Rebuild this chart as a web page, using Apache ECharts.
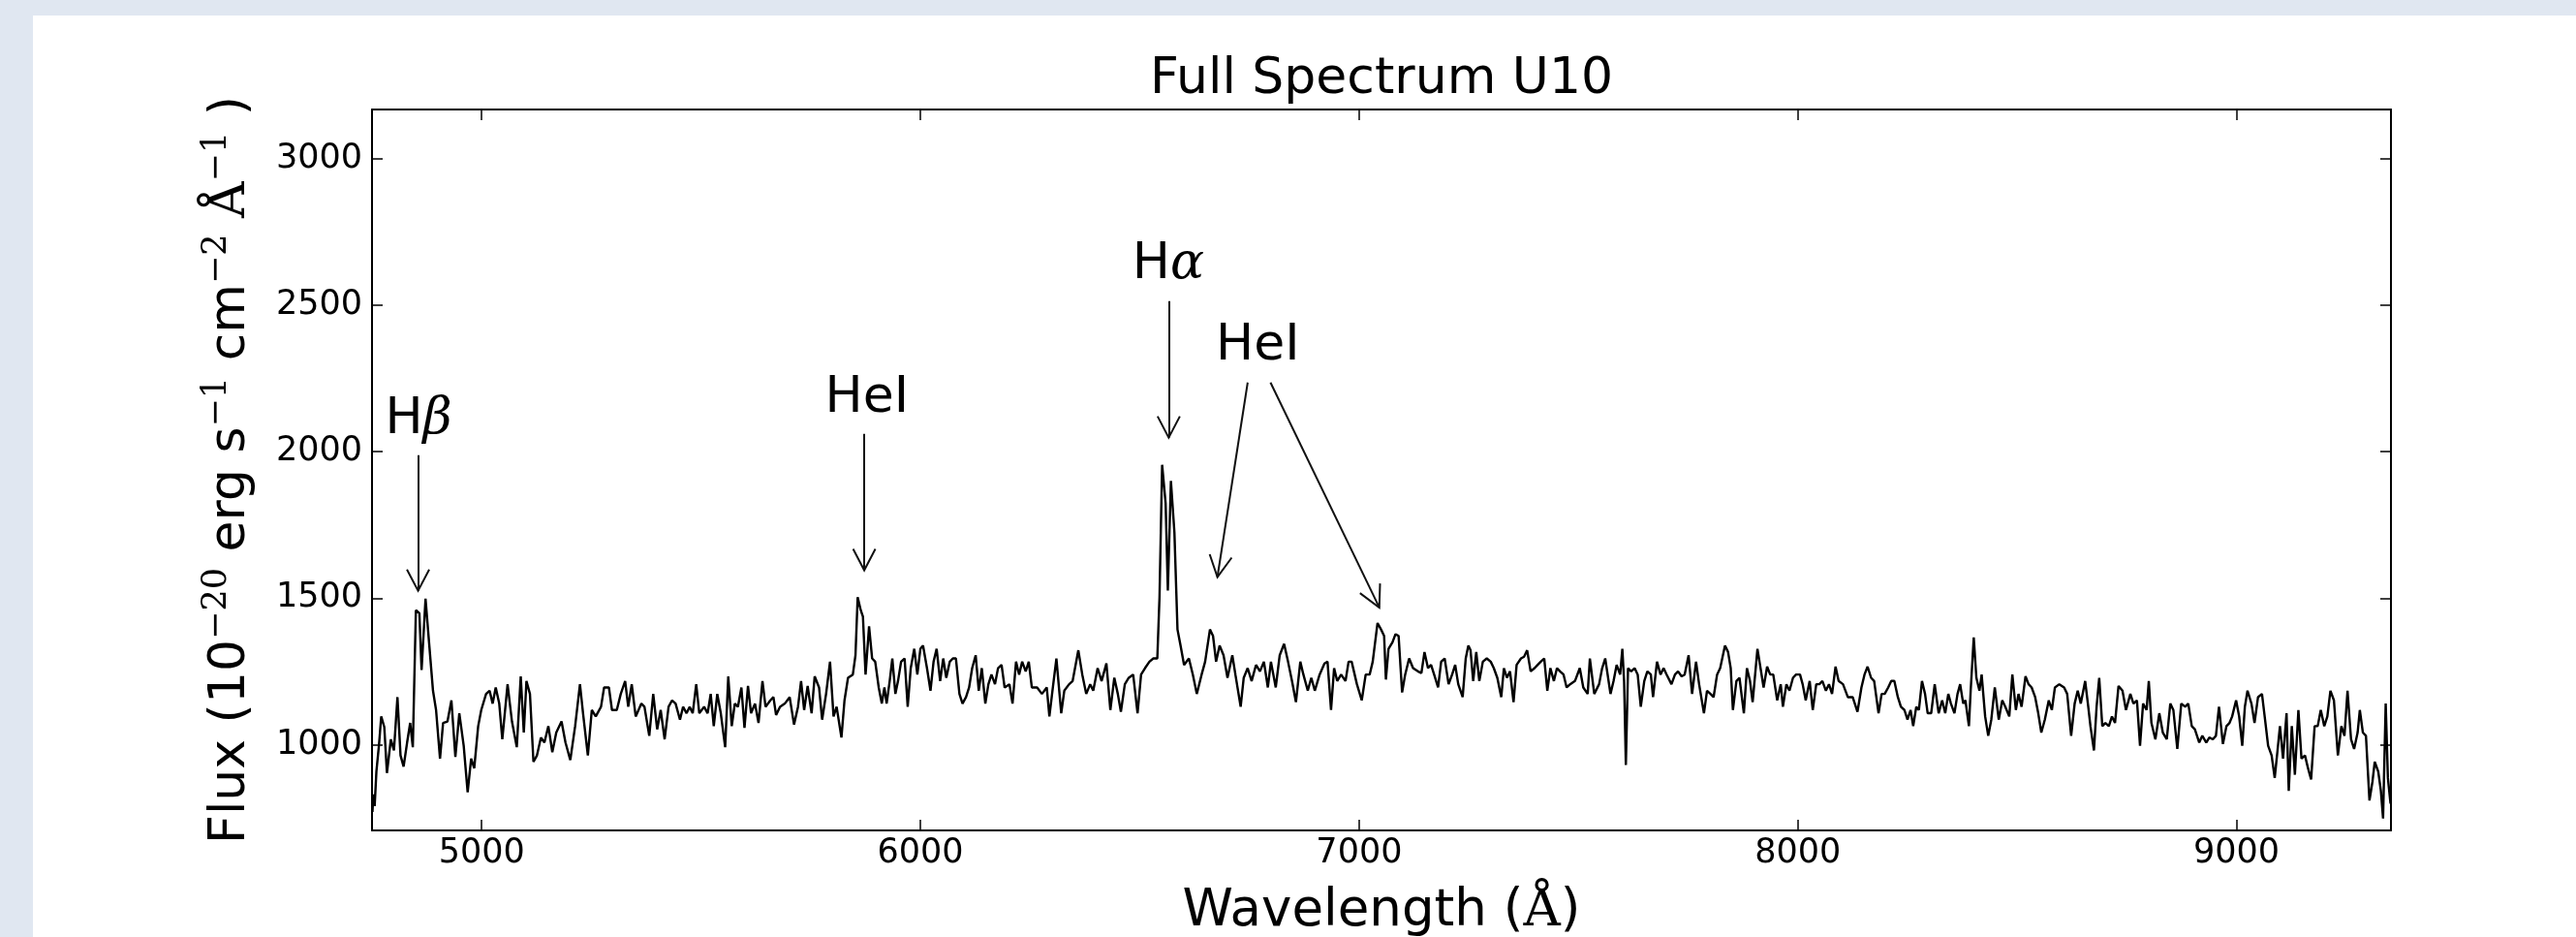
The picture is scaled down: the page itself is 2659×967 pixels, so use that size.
<!DOCTYPE html>
<html>
<head>
<meta charset="utf-8">
<title>Full Spectrum U10</title>
<script src="https://cdn.jsdelivr.net/npm/echarts@6/dist/echarts.min.js"></script>
<style>
  html, body { margin: 0; padding: 0; background: #e0e7f1; }
  #main { position: absolute; left: 34px; top: 16px; width: 2625px; height: 951px; background: #fff; }
</style>
</head>
<body>
<div id="main"></div>
<script>
// spectrum, wavelength in Angstrom, flux in 1e-20 erg/s/cm2/A
var wavelength = [
  4751,4753,4756,4760,4766,4771,4778,4784,4793,4800,
  4808,4815,4822,4830,4837,4843,4850,4858,4863,4872,
  4880,4889,4896,4905,4912,4922,4931,4940,4949,4959,
  4968,4976,4983,4992,4999,5010,5018,5025,5032,5040,
  5047,5059,5069,5080,5089,5096,5102,5110,5118,5126,
  5135,5143,5152,5161,5170,5182,5191,5202,5213,5224,
  5231,5242,5251,5260,5272,5279,5290,5297,5308,5317,
  5327,5334,5342,5351,5364,5371,5382,5391,5400,5408,
  5417,5426,5434,5442,5452,5459,5467,5474,5481,5489,
  5496,5507,5515,
  5522,5529,5537,5545,5555,5562,5570,5577,5584,5592,
  5599,5607,5614,5623,5631,5640,5647,5658,5665,5671,
  5680,5691,5702,5712,5721,5728,5735,5743,5752,5759,
  5769,5776,5785,5794,5802,5809,5820,5827,5835,5846,
  5852,5857,5864,5869,5875,5883,5890,5897,5905,5912,
  5918,5923,5930,5936,5943,5949,5956,5964,5971,5978,
  5986,5993,6000,6006,6015,6023,6030,6037,6045,6052,
  6059,6067,6074,6081,6089,6096,6104,6111,6118,6126,
  6133,6140,6148,6155,6162,6170,6177,6185,6192,6203,
  6210,6218,6225,6232,6240,6247,6254,6266,6277,
  6288,6294,6301,6310,6321,6328,6339,6347,6360,6369,
  6378,6387,6394,6404,6413,6424,6433,6442,6450,6457,
  6466,6475,6485,6495,6503,6512,6522,6531,6540,6545,
  6551,6559,6564,6571,6579,6586,6593,6601,6612,6621,
  6630,6641,6649,6660,6667,6674,6682,6691,6700,6711,
  6718,6730,6737,6746,6755,6765,6774,6783,6792,6799,
  6810,6819,6829,6838,6847,6856,6866,6873,6883,6891,
  6899,6910,6921,6928,6936,6943,6950,6959,6969,6976,
  6983,6995,7006,7015,7024,7031,7042,7050,7057,7061,
  7067,7076,7083,7090,7098,7105,7114,7123,7134,7142,
  7149,7157,7164,7171,7180,7187,7195,7204,7212,7219,
  7226,7236,7243,7249,7254,7260,7267,7274,7282,7291,
  7300,7307,7315,7324,7330,7337,7344,7352,7359,7369,
  7376,7383,7391,7400,7407,7414,7422,7429,7436,7444,
  7451,7458,7466,7473,7481,7492,7503,7511,7521,7526,
  7536,7547,7554,7561,7573,7580,7587,7595,7600,7604,
  7608,7613,7620,7628,7635,7642,7650,7657,7665,7670,
  7679,7687,7694,7701,7712,7720,7727,7735,7742,7751,
  7759,7768,7775,7786,7793,7801,7808,7816,7823,7834,
  7841,7847,7852,7860,7867,7877,7884,7891,7897,7908,
  7915,7922,7930,7937,7944,7953,7961,7966,7974,7981,
  7989,7996,8005,8011,8018,8027,8034,8042,8049,8056,
  8064,8071,8078,8086,8093,8103,8114,8125,8136,8145,
  8152,8159,8167,8174,8184,8191,8198,8206,8213,8220,
  8228,8235,8243,8250,8257,8263,8270,8276,8283,8290,
  8296,8304,8312,8321,8329,8336,8343,8349,8357,8364,
  8370,8377,8382,8390,8394,8401,8407,8414,8419,8427,
  8434,8441,8449,8458,8466,8473,8482,8489,8497,8503,
  8510,8519,8526,8533,8541,8548,8555,8563,8572,8579,
  8586,8596,8607,
  8614,8623,8631,8638,8645,8655,8662,8667,8675,8681,
  8687,8694,8701,8709,8716,8723,8731,8740,8748,8758,
  8765,8773,8780,8787,8795,8800,8806,8815,8824,8832,
  8841,8849,8856,8865,8874,8883,8890,8898,8905,8915,
  8922,8931,8938,8946,8953,8960,8969,8977,8984,8990,
  8999,9006,9013,9019,9025,9034,9041,9049,9058,9065,
  9072,9080,9087,9093,9099,9106,9114,9119,9126,9133,
  9141,9148,9156,9163,9170,9178,9185,9192,9200,9207,
  9214,9222,9231,9239,9246,9253,9261,9268,9276,9281,
  9288,9295,9303,9310,9315,9323,9329,9334,9340,9345,
  9351
];
var flux = [
  770,830,790,908,1000,1096,1060,903,1018,980,
  1162,963,925,1007,1074,991,1459,1448,1255,1498,
  1349,1184,1118,952,1074,1079,1151,958,1107,996,
  837,952,919,1063,1118,1173,1184,1140,1195,1140,
  1018,1206,1079,991,1233,1041,1217,1173,941,963,
  1024,1007,1063,974,1041,1079,1007,947,1063,1206,
  1107,963,1118,1096,1129,1195,1195,1118,1118,1173,
  1217,1129,1206,1096,1140,1129,1030,1173,1052,1118,
  1018,1129,1151,1140,1085,1129,1107,1129,1107,1206,
  1107,1129,1107,
  1173,1063,1173,1107,991,1233,1063,1140,1129,1195,
  1057,1200,1107,1140,1074,1217,1129,1151,1162,1101,
  1129,1140,1162,1068,1129,1217,1118,1200,1107,1233,
  1195,1085,1173,1283,1096,1129,1024,1151,1228,1239,
  1305,1503,1459,1437,1239,1404,1294,1283,1195,1140,
  1195,1140,1217,1294,1173,1217,1283,1294,1129,1261,
  1327,1239,1327,1338,1261,1184,1283,1327,1217,1294,
  1228,1283,1294,1294,1173,1140,1162,1195,1261,1305,
  1184,1261,1140,1206,1239,1206,1261,1272,1195,1206,
  1140,1283,1239,1283,1250,1283,1195,1195,1173,
  1195,1096,1184,1294,1107,1184,1206,1217,1322,1239,
  1173,1206,1184,1261,1217,1277,1118,1228,1173,1112,
  1206,1228,1239,1107,1239,1261,1283,1294,1294,1503,
  1955,1823,1526,1900,1724,1393,1338,1272,1294,1239,
  1173,1239,1283,1393,1371,1283,1338,1305,1228,1305,
  1239,1129,1228,1261,1217,1272,1250,1283,1195,1283,
  1195,1305,1344,1283,1217,1145,1283,1239,1184,1228,
  1184,1239,1277,1283,1118,1261,1217,1239,1217,1283,
  1283,1206,1151,1239,1239,1283,1415,1393,1371,1222,
  1327,1349,1377,1371,1178,1239,1294,1261,1250,1244,
  1316,1261,1272,1239,1195,1283,1294,1206,1239,1272,
  1206,1162,1294,1338,1322,1217,1316,1217,1283,1294,
  1283,1261,1228,1162,1261,1228,1250,1145,1272,1294,
  1300,1322,1250,1261,1272,1283,1294,1184,1261,1217,
  1261,1250,1239,1195,1206,1217,1261,1195,1173,1294,
  1173,1206,1261,1294,1173,1217,1272,1239,1327,1217,
  930,1261,1250,1261,1239,1129,1217,1250,1239,1162,
  1283,1239,1261,1239,1206,1239,1250,1233,1239,1305,
  1173,1283,1206,1107,1184,1173,1162,1239,1261,1338,
  1316,1261,1118,1217,1228,1107,1261,1217,1145,1327,
  1261,1195,1266,1239,1239,1151,1206,1129,1206,1184,
  1228,1239,1239,1206,1151,1217,1118,1206,1206,1217,
  1184,1206,1173,1266,1217,1206,1162,1162,1112,1195,
  1239,1266,1228,1217,1107,1173,1173,1195,1217,1217,
  1162,1129,1118,1085,1118,1063,1129,1118,1217,1173,
  1107,1107,1206,1107,1151,1107,1173,1140,1107,1173,
  1206,1140,1151,1063,1184,1366,1228,1184,1239,1096,
  1030,1085,1195,1085,1151,1129,1096,1239,1118,1173,
  1129,1233,1206,1195,1162,1107,1041,1085,1151,1118,
  1195,1206,1195,
  1173,1030,1140,1184,1140,1217,1129,1063,980,1129,
  1228,1063,1074,1063,1096,1074,1200,1184,1118,1173,
  1140,1151,996,1140,1118,1217,1074,1018,1107,1041,
  1018,1140,1118,985,1140,1129,1140,1063,1052,1007,
  1030,1007,1024,1018,1030,1129,1002,1063,1074,1096,
  1151,1096,996,1129,1184,1140,1074,1162,1173,1085,
  996,963,886,974,1063,952,1107,842,1063,897,
  1118,952,963,919,881,1063,1063,1118,1063,1096,
  1184,1151,963,1063,1030,1184,1018,985,1041,1118,
  1041,1030,809,875,941,908,842,748,1140,886,
  798
];

// emission line labels (text centre, data coords)
var lineNames = ['H{g|β}', 'HeI', 'H{g|α}', 'HeI'];
var labelWave = [4856, 5878, 6565, 6769];
var labelFlux = [2108, 2181, 2637, 2359];

// annotation arrows: tail -> head
var arrowFrom = [[4855, 1988], [5872, 2061], [6566, 2514], [6746, 2236], [6798, 2236]];
var arrowTo = [[4855, 1525], [5872, 1595], [6566, 2048], [6677, 1572], [7046, 1468]];

var xTicks = [5000, 6000, 7000, 8000, 9000];
var yTicks = [1000, 1500, 2000, 2500, 3000];

var chartDom = document.getElementById('main');
var myChart = echarts.init(chartDom);
var option;

var FONT = 'DejaVu Sans';
var SERIF = 'DejaVu Serif';
var frameLine = { show: true, onZero: false, lineStyle: { color: '#000', width: 2 } };

function tickStyle(values) {
  return { show: true, inside: true, length: 11, customValues: values, lineStyle: { color: '#000', width: 1.5 } };
}
function plainNumber(v) {
  return String(v);
}

var spectrum = wavelength.map(function (w, i) { return [w, flux[i]]; });

option = {
  animation: false,
  title: {
    text: 'Full Spectrum U10',
    left: 1387,
    top: 35,
    textAlign: 'center',
    textVerticalAlign: 'top',
    textStyle: { fontFamily: FONT, fontSize: 52, fontWeight: 'normal', color: '#000' }
  },
  grid: { left: 350, right: 191, top: 97, bottom: 110, containLabel: false, outerBoundsMode: 'none' },
  xAxis: [
    {
      type: 'value', position: 'bottom', min: 4750, max: 9352,
      axisLine: frameLine, axisTick: tickStyle(xTicks), splitLine: { show: false },
      axisLabel: { customValues: xTicks, formatter: plainNumber, fontFamily: FONT, fontSize: 35, color: '#000', margin: 6 },
      name: 'Wavelength ({a|Å})', nameLocation: 'middle', nameGap: 58, nameMoveOverlap: false,
      nameTextStyle: {
        fontFamily: FONT, fontSize: 53, color: '#000',
        rich: { a: { fontFamily: SERIF, fontSize: 53 } }
      }
    },
    {
      type: 'value', position: 'top', min: 4750, max: 9352,
      axisLine: frameLine, axisTick: tickStyle(xTicks), splitLine: { show: false },
      axisLabel: { show: false }
    }
  ],
  yAxis: [
    {
      type: 'value', position: 'left', min: 707, max: 3168,
      axisLine: frameLine, axisTick: tickStyle(yTicks), splitLine: { show: false },
      axisLabel: { customValues: yTicks, formatter: plainNumber, fontFamily: FONT, fontSize: 35, color: '#000', margin: 10 },
      name: 'Flux (10{s|−20} erg s{s|−1} cm{s|−2} {a|Å}{s|−1} )',
      nameLocation: 'middle', nameRotate: 90, nameGap: 113, nameMoveOverlap: false,
      nameTextStyle: {
        fontFamily: FONT, fontSize: 52, color: '#000', lineHeight: 65,
        rich: {
          s: { fontFamily: SERIF, fontSize: 35, lineHeight: 36, verticalAlign: 'top' },
          a: { fontFamily: SERIF, fontSize: 52, lineHeight: 65 }
        }
      }
    },
    {
      type: 'value', position: 'right', min: 707, max: 3168,
      axisLine: frameLine, axisTick: tickStyle(yTicks), splitLine: { show: false },
      axisLabel: { show: false }
    }
  ],
  series: [
    {
      name: 'U10',
      type: 'line',
      xAxisIndex: 0,
      yAxisIndex: 0,
      data: spectrum,
      showSymbol: false,
      symbol: 'none',
      silent: true,
      lineStyle: { color: '#000', width: 2.4 },
      markLine: {
        silent: true,
        animation: false,
        symbol: ['none', 'none'],
        lineStyle: { color: '#111', width: 2, type: 'solid' },
        label: { show: false },
        emphasis: { disabled: true },
        data: arrowFrom.map(function (p, i) {
          return [{ coord: p }, { coord: arrowTo[i] }];
        })
      }
    },
    {
      name: 'lines',
      type: 'scatter',
      silent: true,
      symbolSize: 1,
      itemStyle: { color: 'rgba(0,0,0,0)', opacity: 1 },
      data: lineNames.map(function (n, i) {
        return { name: n, value: [labelWave[i], labelFlux[i]] };
      }),
      label: {
        show: true,
        position: 'inside',
        formatter: '{b}',
        fontFamily: FONT,
        fontSize: 52,
        color: '#000',
        opacity: 1,
        rich: { g: { fontFamily: SERIF, fontStyle: 'italic', fontSize: 52, color: '#000' } }
      }
    }
  ]
};

myChart.setOption(option);

// open arrow heads ("->" style), placed through the grid's own coordinate conversion
var heads = arrowTo.map(function (tip, i) {
  var p1 = myChart.convertToPixel({ gridIndex: 0 }, arrowFrom[i]);
  var p2 = myChart.convertToPixel({ gridIndex: 0 }, tip);
  var dx = p2[0] - p1[0];
  var dy = p2[1] - p1[1];
  var len = Math.sqrt(dx * dx + dy * dy);
  var ux = dx / len;
  var uy = dy / len;
  var back = 22;
  var half = 11.5;
  return {
    type: 'polyline',
    silent: true,
    z: 100,
    shape: {
      points: [
        [p2[0] - ux * back - uy * half, p2[1] - uy * back + ux * half],
        [p2[0], p2[1]],
        [p2[0] - ux * back + uy * half, p2[1] - uy * back - ux * half]
      ]
    },
    style: { stroke: '#111', lineWidth: 2, fill: null }
  };
});
myChart.setOption({ graphic: heads });
</script>
</body>
</html>
